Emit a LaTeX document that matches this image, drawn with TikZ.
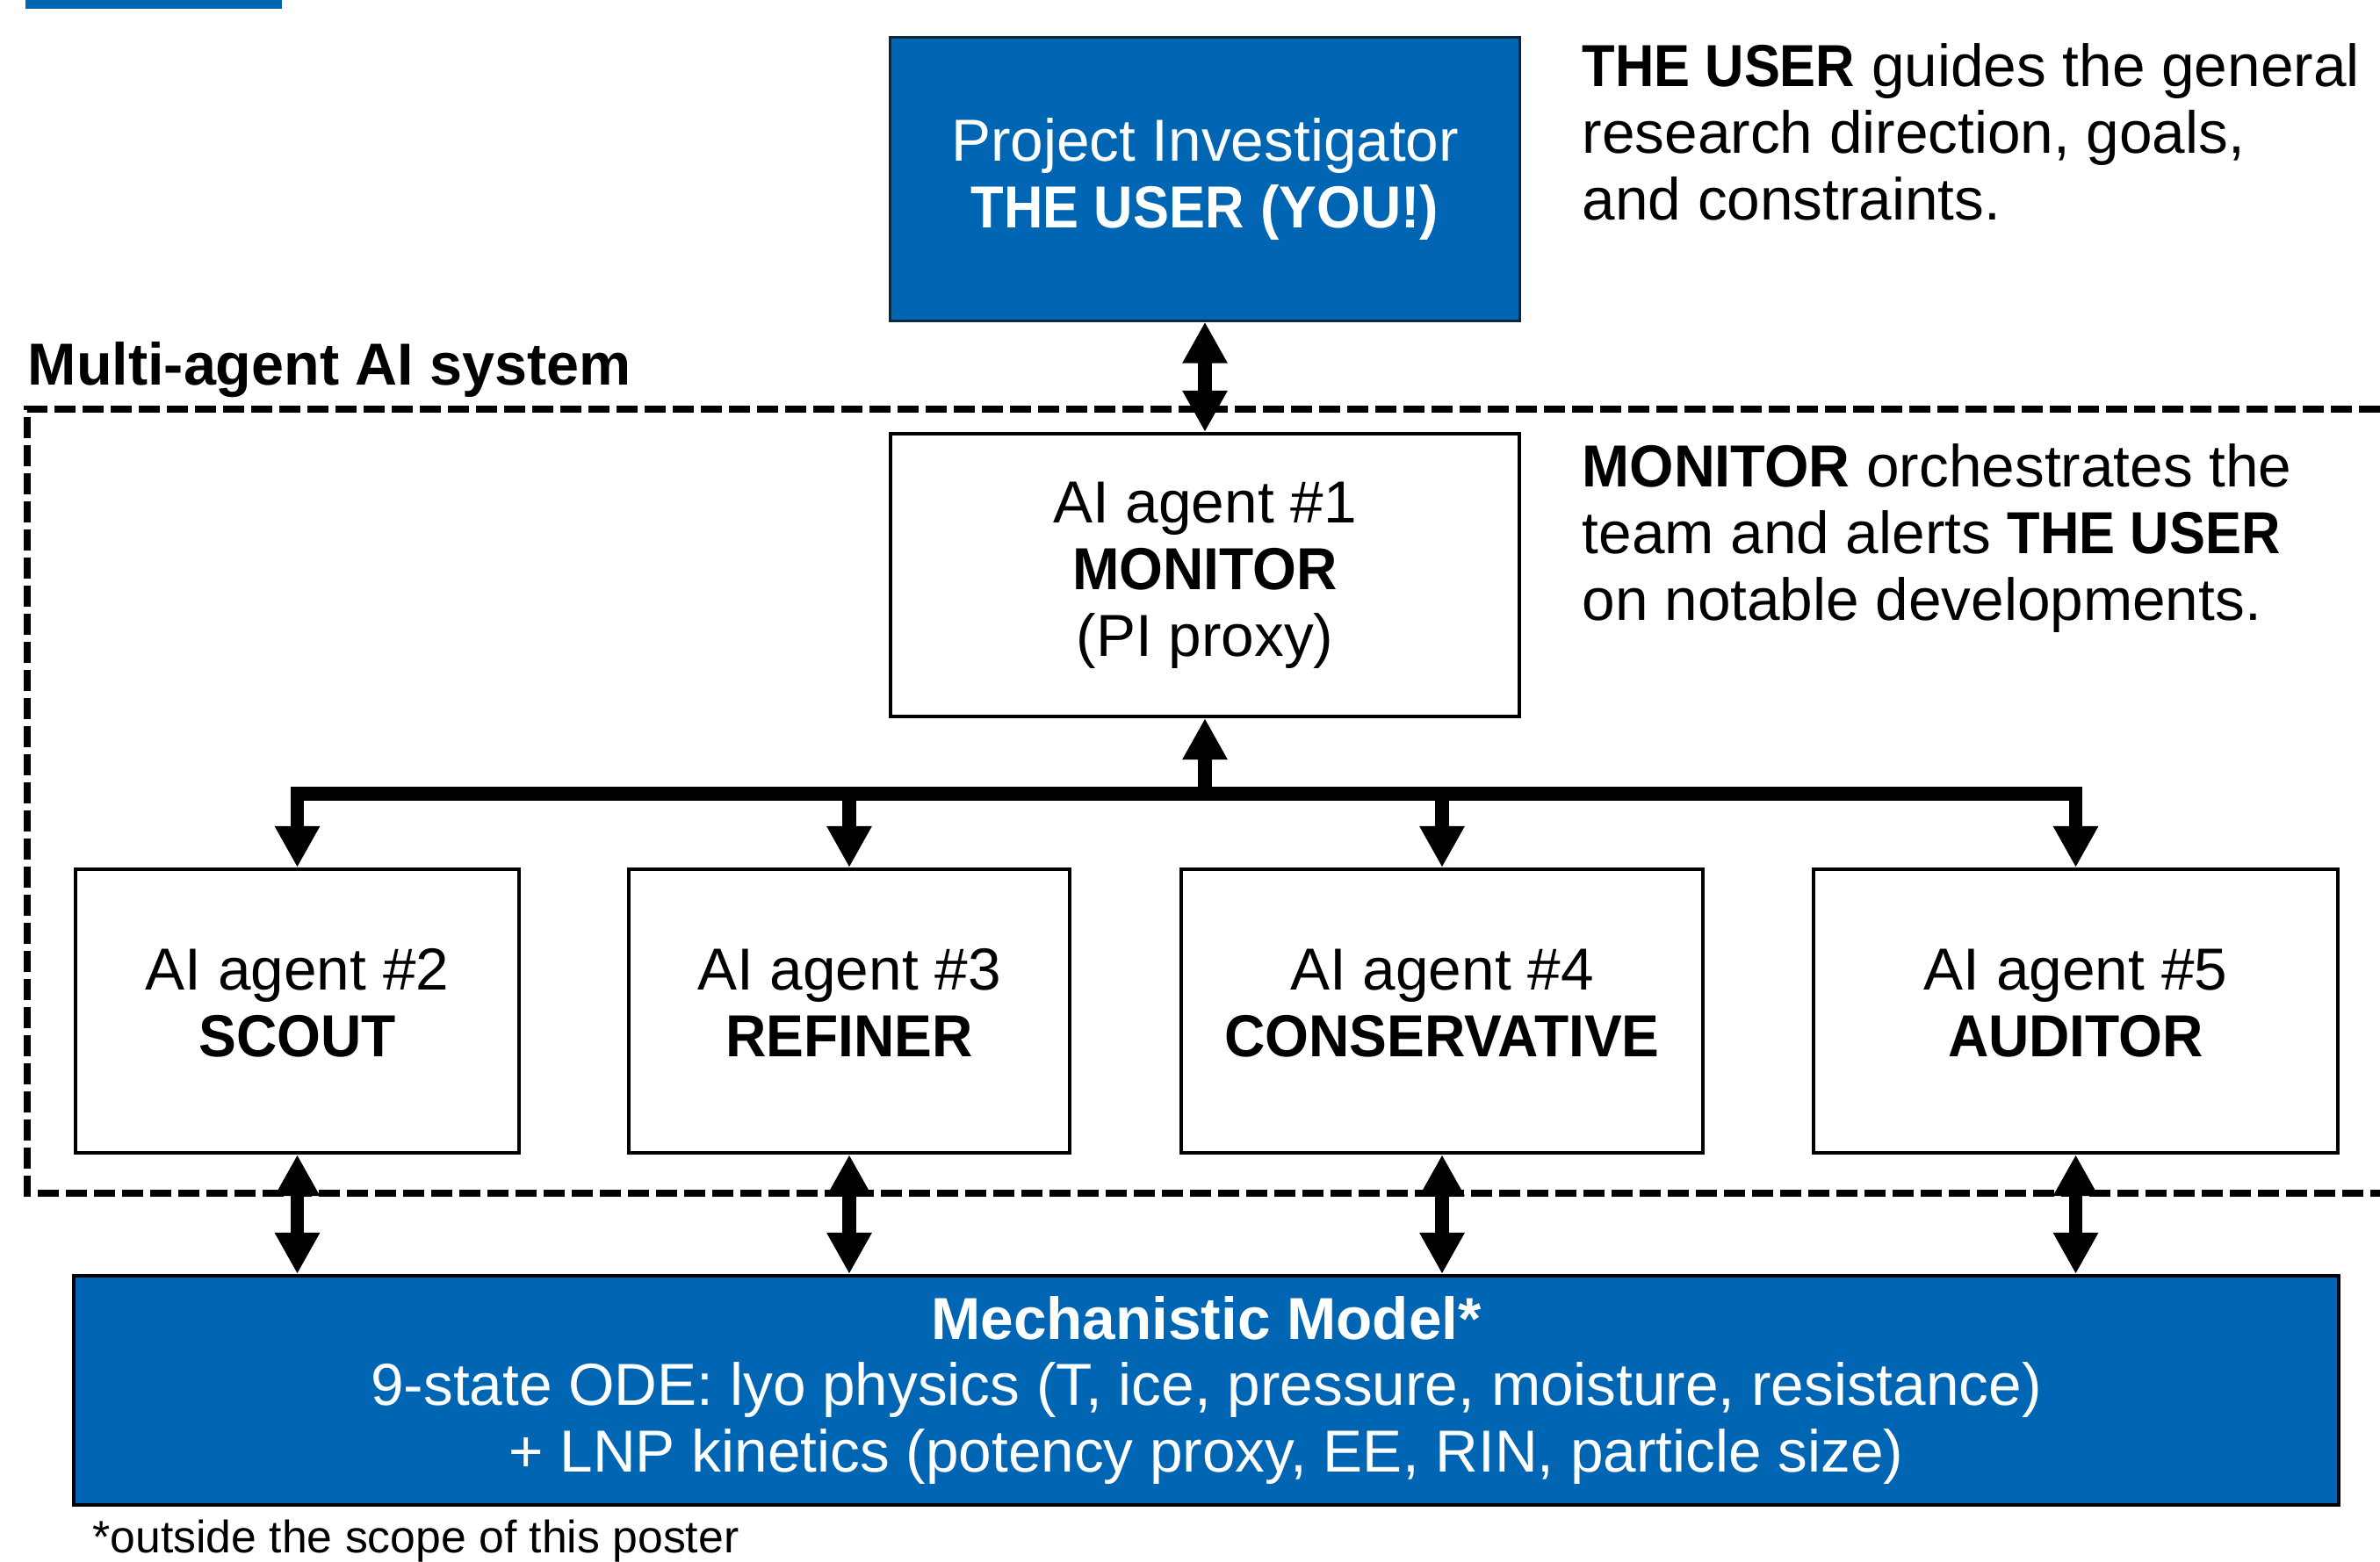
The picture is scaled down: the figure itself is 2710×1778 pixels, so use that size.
\documentclass[tikz,border=0pt]{standalone}
\usepackage{fontspec}
\setmainfont{Liberation Sans}
\usetikzlibrary{arrows.meta}
\definecolor{ublue}{RGB}{0,102,179}
\definecolor{navy}{RGB}{12,38,58}
\newcommand\cbold[1]{\scalebox{0.95}[1]{\textbf{#1}}}
\newcommand\tuser{\scalebox{0.91}[1]{\textbf{THE USER}}}
\newcommand\lowpad{\rule[-0.19cm]{0pt}{0.1pt}}
\begin{document}
\begin{tikzpicture}[x=0.01cm,y=-0.01cm,
  txt/.style={font=\fontsize{19.2pt}{21.6pt}\selectfont, align=center},
  whitebox/.style={draw=black, line width=1.1pt, fill=white, txt, inner sep=0pt},
  bluebox/.style={fill=ublue, text=white, txt, inner sep=0pt},
  arr/.style={line width=4.5pt, line join=miter, >={Triangle[width=13.7pt,length=13.4pt]}},
  note/.style={txt, align=left, anchor=west, inner sep=0pt}]
\useasboundingbox (0,0) rectangle (2710,1778);
\fill[white] (0,0) rectangle (2710,1778);
\fill[ublue] (29,0) rectangle (321,10);

% dashed system boundary
\draw[line width=2.2pt, dash pattern=on 6.8pt off 2.3pt] (2710,466) -- (31,466) -- (31,1359) -- (2710,1359);
\node[txt, anchor=west, inner sep=0pt] (sys) at (31,421) {\scalebox{0.985}[1]{\textbf{Multi-agent AI system}}};

% boxes
\node[bluebox, draw=navy, line width=0.85pt, minimum width=7.16cm, minimum height=3.22cm] (pi) at (1372,204)
  {Project Investigator\\\tuser\ \cbold{(YOU!)}\rule[-0.07cm]{0pt}{0.1pt}};
\node[whitebox, minimum width=7.16cm, minimum height=3.22cm] (mon) at (1372,655)
  {AI agent \#1\\\cbold{MONITOR}\\(PI proxy)};
\node[whitebox, minimum width=5.05cm, minimum height=3.23cm] (a2) at (338.5,1151.5) {AI agent \#2\\\cbold{SCOUT}\lowpad};
\node[whitebox, minimum width=5.02cm, minimum height=3.23cm] (a3) at (967,1151.5) {AI agent \#3\\\cbold{REFINER}\lowpad};
\node[whitebox, minimum width=5.94cm, minimum height=3.23cm] (a4) at (1642,1151.5) {AI agent \#4\\\cbold{CONSERVATIVE}\lowpad};
\node[whitebox, minimum width=5.97cm, minimum height=3.23cm] (a5) at (2363.5,1151.5) {AI agent \#5\\\cbold{AUDITOR}\lowpad};
\node[bluebox, draw=black, line width=1.1pt, minimum width=25.77cm, minimum height=2.61cm] (mech) at (1373.5,1583.5)
  {\textbf{Mechanistic Model*}\\9-state ODE: lyo physics (T, ice, pressure, moisture, resistance)\\+ LNP kinetics (potency proxy, EE, RIN, particle size)};

% notes
\node[note] (n1) at (1801,150) {\tuser{} guides the general\\research direction, goals,\\and constraints.};
\node[note] (n2) at (1801,613) {\scalebox{0.96}[1]{\textbf{MONITOR}} orchestrates the\\team and alerts \tuser\\on notable developments.};
\node[font=\fontsize{14.7pt}{17pt}\selectfont, anchor=west, inner sep=0pt] (foot) at (105,1755) {*outside the scope of this poster};

% connectors
\coordinate (bus) at (1373,904);
\draw[arr,<->] (pi.south) -- (mon.north);
\draw[arr,<->] (a2.north) -- (a2.north |- bus) -- (a5.north |- bus) -- (a5.north);
\draw[arr,->] (a3.north |- bus) -- (a3.north);
\draw[arr,->] (a4.north |- bus) -- (a4.north);
\draw[arr,->] (mon.south |- bus) -- (mon.south);
\foreach \a in {a2,a3,a4,a5}{
  \draw[arr,<->] (\a.south) -- (\a.south |- mech.north);
}
\end{tikzpicture}
\end{document}
